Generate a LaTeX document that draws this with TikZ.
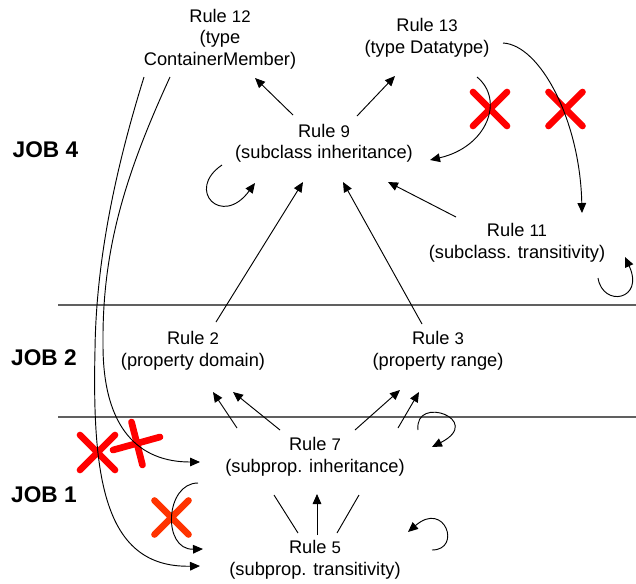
\documentclass[tikz,border=0pt]{standalone}
\usepackage{fontspec}
\setmainfont{Liberation Sans}
\usepackage{xcolor}
\usetikzlibrary{arrows.meta,calc}
\definecolor{crossred}{HTML}{ff0000}
\definecolor{crossorange}{HTML}{ff3300}
\definecolor{jobline}{HTML}{606060}
\newcommand{\rnum}[1]{{\fontsize{12.6}{16.1}\selectfont #1}}

\begin{document}
\begin{tikzpicture}[x=0.75pt,y=0.75pt,yscale=-1,xscale=1,
	rule/.style={align=center,inner sep=0pt,font=\fontsize{13.7}{16.1}\selectfont},
	job/.style={anchor=base,inner sep=0pt,font=\fontsize{17}{20}\selectfont\bfseries},
	arr/.style={line width=0.7pt,-{Triangle[length=7.5pt,width=6.5pt]}},
	lin/.style={line width=0.7pt},
	sep/.style={line width=1pt,color=jobline},
	cross/.style={line width=5pt,line cap=round,color=crossred}]
		\useasboundingbox (0,0) rectangle (636,583);
		% job separators
		\draw [sep] (58,305) -- (636,305) ;
		\draw [sep] (58,417) -- (636,417) ;
		% jobs
		\draw (45.5,157) node [job] (job4) {JOB 4};
		\draw (44,365) node [job] (job2) {JOB 2};
		\draw (44,502) node [job] (job1) {JOB 1};
		% rules
		\draw (220,39) node [rule] (r12) {Rule \rnum{12}\\(type\\ContainerMember)};
		\draw (427,38) node [rule] (r13) {Rule \rnum{13}\\(type Datatype)};
		\draw (324,143) node [rule] (r9) {Rule \rnum{9}\\(subclass inheritance)};
		\draw (517,243) node [rule] (r11) {Rule \rnum{11}\\(subclass. transitivity)};
		\draw (193,351) node [rule] (r2) {Rule \rnum{2}\\(property domain)};
		\draw (438,351) node [rule] (r3) {Rule \rnum{3}\\(property range)};
		\draw (315,457) node [rule] (r7) {Rule \rnum{7}\\(subprop. inheritance)};
		\draw (315,560) node [rule] (r5) {Rule \rnum{5}\\(subprop. transitivity)};
		% crossed out
		\draw [cross] (490,109) +(-17,-17) -- +(17,17) +(17,-17) -- +(-17,17) ;
		\draw [cross] (565.5,109) +(-17,-17) -- +(17,17) +(17,-17) -- +(-17,17) ;
		\draw [cross] (97.5,452.5) +(-17.5,-17.5) -- +(17.5,17.5) +(17.5,-17.5) -- +(-17.5,17.5) ;
		\draw [cross] (137,443.5) +(-24,6.5) -- +(23,-6.5) +(-5.5,-21.5) -- +(5.5,21.5) ;
		\draw [cross,color=crossorange] (171.5,517.5) +(-17,-17) -- +(17,17) +(17,-17) -- +(-17,17) ;
		% job 4
		\draw [arr] ($(r9)+(-31,-28)$) -- ($(r12)+(35,39)$) ;
		\draw [arr] ($(r9)+(33,-27)$) -- ($(r13)+(-32,38)$) ;
		\draw [arr] ($(r13)+(50,39)$) .. controls +(28,23) and +(57,-13) .. ($(r9)+(106,17)$) ;
		\draw [arr] ($(r13)+(76,5)$) .. controls +(37,2) and +(-2,-93) .. ($(r11)+(65,-30)$) ;
		\draw [arr] ($(r11)+(-61,-26)$) -- ($(r9)+(64,39)$) ;
		\draw [arr] ($(r9)+(-102,22)$) .. controls +(-37,25) and +(-33,45) .. ($(r9)+(-69,40)$) ;
		\draw [arr] ($(r11)+(81,35)$) .. controls +(5,30) and +(20,43) .. ($(r11)+(108,14)$) ;
		% job 2
		\draw [arr] ($(r2)+(23,-29)$) -- ($(r9)+(-21,39)$) ;
		\draw [arr] ($(r3)+(-16,-27)$) -- ($(r9)+(19,39)$) ;
		% job 1
		\draw [arr] ($(r7)+(-78,-29)$) -- ($(r2)+(20,41)$) ;
		\draw [arr] ($(r7)+(-35,-27)$) -- ($(r2)+(40,41)$) ;
		\draw [arr] ($(r7)+(40,-27)$) -- ($(r3)+(-38,39)$) ;
		\draw [arr] ($(r7)+(83,-29)$) -- ($(r3)+(-19,41)$) ;
		\draw [arr] ($(r7)+(103,-27)$) .. controls +(-4,-36) and +(53,-27) .. ($(r7)+(117,-10)$) ;
		\draw [lin] ($(r5)+(-17,-27)$) -- ($(r7)+(-41,38)$) ;
		\draw [arr] ($(r5)+(2,-25)$) -- ($(r7)+(2,37)$) ;
		\draw [lin] ($(r5)+(22,-27)$) -- ($(r7)+(44,38)$) ;
		\draw [arr] ($(r5)+(117,-10)$) .. controls +(30,0) and +(37,-32) .. ($(r5)+(93,-28)$) ;
		\draw [arr] ($(r7)+(-117,26)$) .. controls +(-33,0) and +(-41,1) .. ($(r5)+(-112,-11)$) ;
		% long ones from rule 12
		\coordinate (bend7) at (103,345) ;
		\coordinate (bend5) at (95,350) ;
		\draw [arr] ($(r12)+(-50,38)$) .. controls +(-45,98) and +(-1,-95) .. (bend7) .. controls +(0,85) and +(-60,0) .. ($(r7)+(-115,5)$) ;
		\draw [arr] ($(r12)+(-76,38)$) .. controls +(-29,93) and +(1,-88) .. (bend5) .. controls +(-3,130) and +(-95,2) .. ($(r5)+(-115,6)$) ;
\end{tikzpicture}
\end{document}
